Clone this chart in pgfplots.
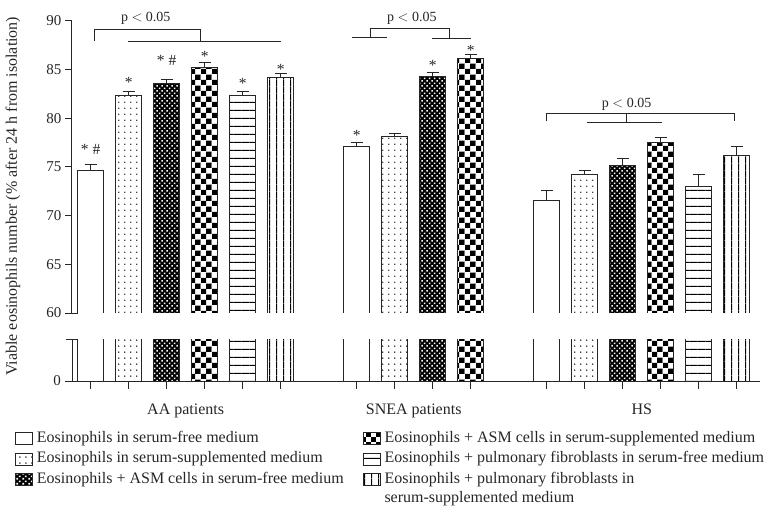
\documentclass[border=0pt]{standalone}
\usepackage{fontspec}
\setmainfont{Liberation Serif}
\usepackage{pgfplots}
\pgfplotsset{compat=1.18}
\usepackage{pgfplotstable}
\usetikzlibrary{patterns.meta}

% ---------- fill patterns ----------
\tikzdeclarepattern{name=sparsedots, type=colored,
  bottom left={(0,0)}, top right={(5.8bp,5.8bp)}, tile size={(5.8bp,5.8bp)},
  code={\fill[white] (0,0) rectangle (5.8bp,5.8bp);
        \fill[black] (2.9bp,2.9bp) circle (0.75bp);}}
\tikzdeclarepattern{name=finecheck, type=colored,
  bottom left={(0,0)}, top right={(5.4bp,5.4bp)}, tile size={(5.4bp,5.4bp)},
  code={\fill[black] (0,0) rectangle (5.4bp,5.4bp);
        \fill[white] (0.5bp,0.5bp) rectangle (2.2bp,2.2bp);
        \fill[white] (3.2bp,3.2bp) rectangle (4.9bp,4.9bp);}}
\tikzdeclarepattern{name=bigcheck, type=colored,
  bottom left={(0,0)}, top right={(10.6bp,10.6bp)}, tile size={(10.6bp,10.6bp)},
  code={\fill[white] (0,0) rectangle (10.6bp,10.6bp);
        \fill[black] (0,0) rectangle (5.3bp,5.3bp);
        \fill[black] (5.3bp,5.3bp) rectangle (10.6bp,10.6bp);}}
\tikzdeclarepattern{name=hlines, type=colored,
  bottom left={(0,0)}, top right={(7.8bp,7.8bp)}, tile size={(7.8bp,7.8bp)},
  code={\fill[white] (0,0) rectangle (7.8bp,7.8bp);
        \fill[black] (0,0) rectangle (7.8bp,1.2bp);}}
\tikzdeclarepattern{name=vlines, type=colored,
  bottom left={(0,0)}, top right={(7.3bp,7.3bp)}, tile size={(7.3bp,7.3bp)},
  code={\fill[white] (0,0) rectangle (7.3bp,7.3bp);
        \fill[black] (0,0) rectangle (1.1bp,7.3bp);}}

\tikzset{
  fillA/.style={fill=white},
  fillB/.style={pattern=sparsedots},
  fillC/.style={pattern=finecheck},
  fillD/.style={pattern=bigcheck},
  fillE/.style={pattern=hlines},
  fillF/.style={pattern=vlines},
  legbox/.style={draw=black!85, line width=0.8bp},
}

% ---------- data: x position, mean, SEM ----------
% AA patients at 0-5, SNEA patients at 7-10, HS at 12-17
\pgfplotstableread{
x  y      e
0  74.65  0.58
7  77.11  0.45
12 71.53  1.07
}\serumfree
\pgfplotstableread{
x  y      e
1  82.36  0.36
8  78.14  0.31
13 74.20  0.48
}\serumsupp
\pgfplotstableread{
x  y      e
2  83.63  0.34
9  84.28  0.41
14 75.16  0.72
}\asmfree
\pgfplotstableread{
x  y      e
3  85.23  0.52
10 86.13  0.41
15 77.53  0.51
}\asmsupp
\pgfplotstableread{
x  y      e
4  82.36  0.44
16 73.00  1.20
}\fibfree
\pgfplotstableread{
x  y      e
5  84.20  0.45
17 76.19  0.91
}\fibsupp

\pgfplotsset{
  barbase/.style={ybar, bar width=0.68, bar shift=0pt,
    draw=black!85, line width=1bp},
  errs/.style={error bars/.cd, y dir=plus, y explicit,
    error bar style={line width=1bp, draw=black!85},
    error mark options={rotate=90, mark size=6bp, line width=1bp, draw=black!85}},
  common/.style={scale only axis, width=688bp,
    xmin=-0.49, xmax=17.61,
    /pgf/number format/assume math mode=true,
    tick label style={font=\fontsize{15bp}{18bp}\selectfont, text=black!85},
    axis line style={line width=1bp, draw=black!85},
    major tick style={line width=1bp, draw=black!85},
    tick align=outside, clip mode=individual},
}

\newcommand{\sig}{\fontsize{15.5bp}{18bp}\selectfont *}

\begin{document}
\begin{tikzpicture}
\path[use as bounding box] (-72bp,-125bp) rectangle (711bp,381bp);

% ---------- lower panel (0 to break) ----------
\begin{axis}[common, at={(0,0)}, anchor=south west, height=42bp,
  ymin=0, ymax=4.32,
  axis x line*=bottom, axis y line*=left,
  ytick={0}, major tick length=7.5bp,
  extra y ticks={4.32}, extra y tick labels={},
  extra y tick style={tick align=center, major tick length=12bp},
  xtick={0,1,2,3,4,5,7,8,9,10,12,13,14,15,16,17}, xticklabels={},
  extra x ticks={2.5,8.5,14.5},
  extra x tick labels={AA patients, SNEA patients, HS},
  extra x tick style={major tick length=0pt,
    tick label style={font=\fontsize{16bp}{19bp}\selectfont, yshift=-19bp}},
  legend columns=3, transpose legend, legend cell align=left,
  legend style={draw=none, fill=none, inner sep=0pt,
    at={(axis description cs:-0.0829,-1.17)}, anchor=north west,
    font=\fontsize{16bp}{20bp}\selectfont, text=black!85,
    nodes={inner sep=1bp, text height=11bp, text depth=3.5bp},
    row sep=4bp,
    /tikz/every odd column/.append style={column sep=3bp},
    /tikz/every even column/.append style={column sep=18bp},
    /tikz/column 3/.append style={column sep=-1bp}},
]
\addplot[barbase, fillA, forget plot] table[x=x, y=y] {\serumfree};
\addplot[barbase, fillB, forget plot] table[x=x, y=y] {\serumsupp};
\addplot[barbase, fillC, forget plot] table[x=x, y=y] {\asmfree};
\addplot[barbase, fillD, forget plot] table[x=x, y=y] {\asmsupp};
\addplot[barbase, fillE, forget plot] table[x=x, y=y] {\fibfree};
\addplot[barbase, fillF, forget plot] table[x=x, y=y] {\fibsupp};

\addlegendimage{legend image code/.code={\draw[legbox, fillA] (0bp,-6bp) rectangle (17bp,6bp);}}
\addlegendentry{Eosinophils in serum-free medium}
\addlegendimage{legend image code/.code={\draw[legbox, fillB] (0bp,-6bp) rectangle (17bp,6bp);}}
\addlegendentry{Eosinophils in serum-supplemented medium}
\addlegendimage{legend image code/.code={\draw[legbox, fillC] (0bp,-6bp) rectangle (17bp,6bp);}}
\addlegendentry{Eosinophils + ASM cells in serum-free medium}
\addlegendimage{legend image code/.code={\draw[legbox, fillD] (0bp,-6bp) rectangle (17bp,6bp);}}
\addlegendentry{Eosinophils + ASM cells in serum-supplemented medium}
\addlegendimage{legend image code/.code={\draw[legbox, fillE] (0bp,-6bp) rectangle (17bp,6bp);}}
\addlegendentry{Eosinophils + pulmonary fibroblasts in serum-free medium}
\addlegendimage{legend image code/.code={\draw[legbox, fillF] (0bp,-6bp) rectangle (17bp,6bp);}}
\addlegendentry{\makebox[0pt][l]{\raisebox{-19.5bp}[0pt][0pt]{serum-supplemented medium}}Eosinophils + pulmonary fibroblasts in}
\end{axis}

% ---------- upper panel (60 to 90) ----------
\begin{axis}[common, at={(0,68bp)}, anchor=south west, height=292bp,
  ymin=60, ymax=90,
  axis x line=none, axis y line*=left,
  ytick={60,65,...,90}, major tick length=7bp,
  extra y ticks={60}, extra y tick labels={},
  extra y tick style={tick align=center, major tick length=12bp},
  ylabel={Viable eosinophils number (\% after 24 h from isolation)},
  ylabel style={at={(axis description cs:-0.0858,0.40)}, anchor=center,
    font=\fontsize{16bp}{19bp}\selectfont, text=black!85},
]
\addplot[barbase, fillA, errs] table[x=x, y=y, y error=e] {\serumfree};
\addplot[barbase, fillB, errs] table[x=x, y=y, y error=e] {\serumsupp};
\addplot[barbase, fillC, errs] table[x=x, y=y, y error=e] {\asmfree};
\addplot[barbase, fillD, errs] table[x=x, y=y, y error=e] {\asmsupp};
\addplot[barbase, fillE, errs] table[x=x, y=y, y error=e] {\fibfree};
\addplot[barbase, fillF, errs] table[x=x, y=y, y error=e] {\fibsupp};

% significance marks
\begin{scope}[every node/.style={anchor=base, inner sep=0pt, text=black!85}]
\node at (axis cs:0,76.25)  {\sig\ \#};
\node at (axis cs:1,83.18)  {\sig};
\node at (axis cs:2,85.44)  {\sig\ \#};
\node at (axis cs:3,85.82)  {\sig};
\node at (axis cs:4,83.07)  {\sig};
\node at (axis cs:5,84.50)  {\sig};
\node at (axis cs:7,77.76)  {\sig};
\node at (axis cs:9,84.95)  {\sig};
\node at (axis cs:10,86.50) {\sig};
\end{scope}

% comparison brackets
\begin{scope}[draw=black!85, line width=1bp]
\draw (axis cs:0.09,87.9) -- (axis cs:0.09,89.1) -- (axis cs:2.9,89.1) -- (axis cs:2.9,87.9);
\draw (axis cs:0.99,87.9) -- (axis cs:5.0,87.9);
\draw (axis cs:6.88,88.31) -- (axis cs:7.79,88.31);
\draw (axis cs:7.37,88.31) -- (axis cs:7.37,89.18) -- (axis cs:9.45,89.18) -- (axis cs:9.45,88.18);
\draw (axis cs:8.97,88.18) -- (axis cs:10.0,88.18);
\draw (axis cs:12.0,79.68) -- (axis cs:12.0,80.5) -- (axis cs:16.94,80.5) -- (axis cs:16.94,79.68);
\draw (axis cs:14.1,80.5) -- (axis cs:14.1,79.55);
\draw (axis cs:13.06,79.55) -- (axis cs:15.04,79.55);
\end{scope}
\begin{scope}[every node/.style={anchor=base, inner sep=0pt, text=black!85,
    font=\fontsize{14bp}{17bp}\selectfont}]
\node at (axis cs:1.45,89.93) {p $<$ 0.05};
\node at (axis cs:8.45,89.93) {p $<$ 0.05};
\node at (axis cs:14.1,81.16) {p $<$ 0.05};
\end{scope}
\end{axis}
\end{tikzpicture}
\end{document}
